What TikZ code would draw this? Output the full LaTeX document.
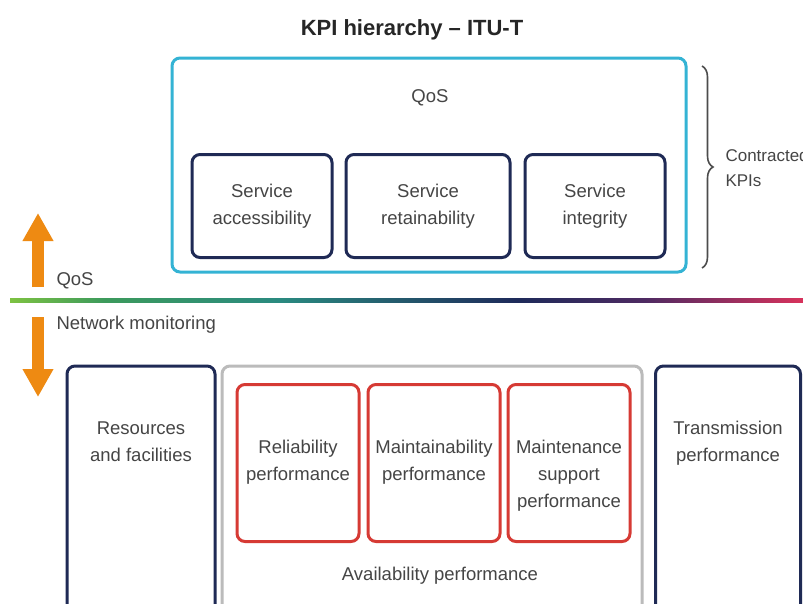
\documentclass[tikz,border=0pt]{standalone}
\usepackage{fontspec}
\setmainfont{Liberation Sans}
\usetikzlibrary{arrows.meta,decorations.pathreplacing}

\definecolor{qoscyan}{HTML}{34B3D4}
\definecolor{kpinavy}{HTML}{1F2A55}
\definecolor{kpired}{HTML}{D63A34}
\definecolor{kpigray}{HTML}{BBBBBB}
\definecolor{kpiorange}{HTML}{EE8A12}
\definecolor{kpitext}{HTML}{454545}
\definecolor{linegreen}{HTML}{7DC242}
\definecolor{linegt}{HTML}{3C9A5C}
\definecolor{lineteal}{HTML}{2A8A80}
\definecolor{linenavy}{HTML}{1E2A5A}
\definecolor{linepurple}{HTML}{4E2A62}
\definecolor{linered}{HTML}{D8325C}

\pgfdeclarehorizontalshading{kpiline}{100bp}{color(0bp)=(linegreen); color(25bp)=(linegreen); color(31bp)=(linegt); color(42bp)=(lineteal); color(57bp)=(linenavy); color(65bp)=(linepurple); color(75bp)=(linered); color(100bp)=(linered)}

\tikzset{
  kpibox/.style={draw,rounded corners=8pt,line width=3pt,fill=white},
  kpilabel/.style={text=kpitext,align=center,font=\fontsize{18.5}{27}\selectfont},
  kpiarrow/.style={kpiorange,line width=12pt,-{Triangle[width=29pt,length=28pt]}},
  kpibrace/.style={decorate,decoration={brace,amplitude=11pt},line width=1.6pt,draw=black!70}
}

\begin{document}
\begin{tikzpicture}[x=1pt,y=-1pt]
\useasboundingbox (0,0) rectangle (803,603);
\clip (0,0) rectangle (803,603);
\fill[white] (0,0) rectangle (803,603);
% title
\node[font=\bfseries\fontsize{22}{26}\selectfont,text=black!85] (title) at (412,30) {KPI hierarchy -- ITU-T};
% drawing QoS boxes
\node[kpibox,draw=qoscyan,minimum width=514pt,minimum height=214pt] (qos) at (429,165) {};
\node[kpilabel] (qosTxt) at (430,98) {QoS};
\node[kpibox,draw=kpinavy,minimum width=140pt,minimum height=103pt,kpilabel] (access) at (262,206) {Service\\accessibility};
\node[kpibox,draw=kpinavy,minimum width=164pt,minimum height=103pt,kpilabel] (retain) at (428,206) {Service\\retainability};
\node[kpibox,draw=kpinavy,minimum width=140pt,minimum height=103pt,kpilabel] (integ) at (595,206) {Service\\integrity};
% brace
\coordinate (braceTop) at (702,66);
\coordinate (braceBot) at (702,268);
\draw[kpibrace] (braceTop) -- (braceBot);
\node[kpilabel,anchor=west,align=left,font=\fontsize{17}{25}\selectfont] (contracted) at (722,168) {Contracted\\KPIs};
% dividing line and arrows
\shade[shading=kpiline] (10,298) rectangle (803,302);
\coordinate (upFoot) at (38,287);
\coordinate (upTip) at (38,213);
\coordinate (downFoot) at (38,317);
\coordinate (downTip) at (38,397);
\draw[kpiarrow] (upFoot) -- (upTip);
\draw[kpiarrow] (downFoot) -- (downTip);
\node[kpilabel,anchor=west] (qosSide) at (53,281) {QoS};
\node[kpilabel,anchor=west] (netmon) at (53,325) {Network monitoring};
% drawing network boxes
\node[kpibox,draw=kpinavy,minimum width=148pt,minimum height=274pt] (res) at (141,503) {};
\node[kpibox,draw=kpigray,minimum width=420pt,minimum height=274pt] (avail) at (432,503) {};
\node[kpibox,draw=kpinavy,minimum width=145pt,minimum height=274pt] (trans) at (728,503) {};
\node[kpibox,draw=kpired,minimum width=122pt,minimum height=157pt] (relia) at (298,463) {};
\node[kpibox,draw=kpired,minimum width=132pt,minimum height=157pt] (maint) at (434,463) {};
\node[kpibox,draw=kpired,minimum width=122pt,minimum height=157pt] (support) at (569,463) {};
\node[kpilabel,anchor=north] (resTxt) at (141,418) {Resources\\and facilities};
\node[kpilabel,anchor=north] (transTxt) at (728,418) {Transmission\\performance};
\node[kpilabel,anchor=north] (reliaTxt) at (298,437) {Reliability\\performance};
\node[kpilabel,anchor=north] (maintTxt) at (434,437) {Maintainability\\performance};
\node[kpilabel,anchor=north] (supportTxt) at (569,437) {Maintenance\\support\\performance};
\node[kpilabel] (availTxt) at (440,576) {Availability performance};
\end{tikzpicture}
\end{document}
